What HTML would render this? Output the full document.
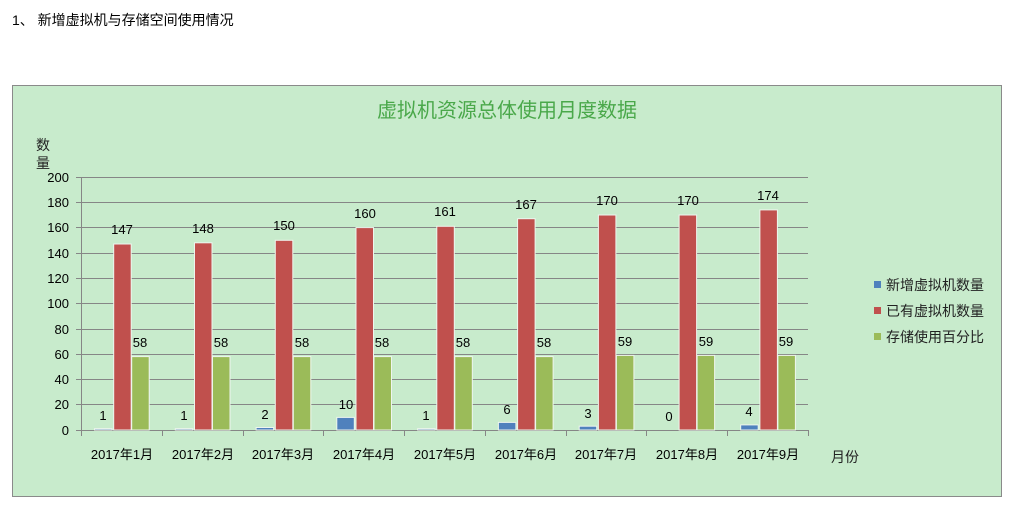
<!DOCTYPE html>
<html><head><meta charset="utf-8"><style>
body{margin:0;width:1013px;height:512px;background:#fff;overflow:hidden}
svg{display:block}
text{font-family:"Liberation Sans","Noto Sans CJK SC",sans-serif}
</style></head><body>
<svg width="1013" height="512" xmlns="http://www.w3.org/2000/svg">
<text x="12" y="25" font-size="14" fill="#000">1、 新增虚拟机与存储空间使用情况</text>
<rect x="12.5" y="85.5" width="989" height="411" fill="#c8ebcc" stroke="#8a8a8a"/>
<text x="507" y="117" font-size="20" fill="#4aa84a" text-anchor="middle">虚拟机资源总体使用月度数据</text>
<text x="36" y="150" font-size="14" fill="#222">数</text>
<text x="36" y="168" font-size="14" fill="#222">量</text>
<g stroke="#868686" stroke-width="1">
<line x1="76" y1="177.5" x2="808" y2="177.5"/>
<line x1="76" y1="202.5" x2="808" y2="202.5"/>
<line x1="76" y1="227.5" x2="808" y2="227.5"/>
<line x1="76" y1="253.5" x2="808" y2="253.5"/>
<line x1="76" y1="278.5" x2="808" y2="278.5"/>
<line x1="76" y1="303.5" x2="808" y2="303.5"/>
<line x1="76" y1="329.5" x2="808" y2="329.5"/>
<line x1="76" y1="354.5" x2="808" y2="354.5"/>
<line x1="76" y1="379.5" x2="808" y2="379.5"/>
<line x1="76" y1="404.5" x2="808" y2="404.5"/>
<line x1="76" y1="430.5" x2="808" y2="430.5"/>
<line x1="81.5" y1="177" x2="81.5" y2="436"/>
<line x1="162.5" y1="430" x2="162.5" y2="436"/>
<line x1="243.5" y1="430" x2="243.5" y2="436"/>
<line x1="323.5" y1="430" x2="323.5" y2="436"/>
<line x1="404.5" y1="430" x2="404.5" y2="436"/>
<line x1="485.5" y1="430" x2="485.5" y2="436"/>
<line x1="566.5" y1="430" x2="566.5" y2="436"/>
<line x1="646.5" y1="430" x2="646.5" y2="436"/>
<line x1="727.5" y1="430" x2="727.5" y2="436"/>
<line x1="808.5" y1="430" x2="808.5" y2="436"/>
</g>
<g font-size="13" fill="#000" text-anchor="end">
<text x="69" y="182">200</text><text x="69" y="207">180</text><text x="69" y="232">160</text>
<text x="69" y="258">140</text><text x="69" y="283">120</text><text x="69" y="308">100</text>
<text x="69" y="334">80</text><text x="69" y="359">60</text><text x="69" y="384">40</text>
<text x="69" y="409">20</text><text x="69" y="435">0</text>
</g>
<g stroke="#eef5ee" stroke-width="1">
<g fill="#4f81bd">
<rect x="94.5" y="428.7" width="17.5" height="1.3"/>
<rect x="175.3" y="428.7" width="17.5" height="1.3"/>
<rect x="256.1" y="427.5" width="17.5" height="2.5"/>
<rect x="336.8" y="417.4" width="17.5" height="12.6"/>
<rect x="417.6" y="428.7" width="17.5" height="1.3"/>
<rect x="498.4" y="422.4" width="17.5" height="7.6"/>
<rect x="579.2" y="426.2" width="17.5" height="3.8"/>
<rect x="740.7" y="424.9" width="17.5" height="5.1"/>
</g>
<g fill="#c0504d">
<rect x="113.7" y="244" width="17.5" height="186"/>
<rect x="194.5" y="242.8" width="17.5" height="187.2"/>
<rect x="275.3" y="240.3" width="17.5" height="189.7"/>
<rect x="356" y="227.6" width="17.5" height="202.4"/>
<rect x="436.8" y="226.3" width="17.5" height="203.7"/>
<rect x="517.6" y="218.7" width="17.5" height="211.3"/>
<rect x="598.4" y="215" width="17.5" height="215"/>
<rect x="679.1" y="215" width="17.5" height="215"/>
<rect x="759.9" y="209.9" width="17.5" height="220.1"/>
</g>
<g fill="#9bbb59">
<rect x="131.7" y="356.6" width="17.5" height="73.4"/>
<rect x="212.5" y="356.6" width="17.5" height="73.4"/>
<rect x="293.3" y="356.6" width="17.5" height="73.4"/>
<rect x="374" y="356.6" width="17.5" height="73.4"/>
<rect x="454.8" y="356.6" width="17.5" height="73.4"/>
<rect x="535.6" y="356.6" width="17.5" height="73.4"/>
<rect x="616.4" y="355.4" width="17.5" height="74.6"/>
<rect x="697.1" y="355.4" width="17.5" height="74.6"/>
<rect x="777.9" y="355.4" width="17.5" height="74.6"/>
</g>
</g>
<g font-size="13" fill="#000" text-anchor="middle">
<text x="103" y="420">1</text><text x="184" y="420">1</text><text x="265" y="419">2</text>
<text x="346" y="409">10</text><text x="426" y="420">1</text><text x="507" y="414">6</text>
<text x="588" y="418">3</text><text x="669" y="421">0</text><text x="749" y="416">4</text>
<text x="122" y="234">147</text><text x="203" y="233">148</text><text x="284" y="230">150</text>
<text x="365" y="218">160</text><text x="445" y="216">161</text><text x="526" y="209">167</text>
<text x="607" y="205">170</text><text x="688" y="205">170</text><text x="768" y="200">174</text>
<text x="140" y="347">58</text><text x="221" y="347">58</text><text x="302" y="347">58</text>
<text x="382" y="347">58</text><text x="463" y="347">58</text><text x="544" y="347">58</text>
<text x="625" y="346">59</text><text x="706" y="346">59</text><text x="786" y="346">59</text>
</g>
<g font-size="13" fill="#000" text-anchor="middle">
<text x="122" y="459">2017年1月</text><text x="203" y="459">2017年2月</text><text x="283" y="459">2017年3月</text>
<text x="364" y="459">2017年4月</text><text x="445" y="459">2017年5月</text><text x="526" y="459">2017年6月</text>
<text x="606" y="459">2017年7月</text><text x="687" y="459">2017年8月</text><text x="768" y="459">2017年9月</text>
</g>
<text x="831" y="462" font-size="14" fill="#222">月份</text>
<rect x="874" y="281" width="7" height="7" fill="#4f81bd"/>
<rect x="874" y="307" width="7" height="7" fill="#c0504d"/>
<rect x="874" y="333" width="7" height="7" fill="#9bbb59"/>
<g font-size="14" fill="#222">
<text x="886" y="290">新增虚拟机数量</text>
<text x="886" y="316">已有虚拟机数量</text>
<text x="886" y="342">存储使用百分比</text>
</g>
</svg>
</body></html>
